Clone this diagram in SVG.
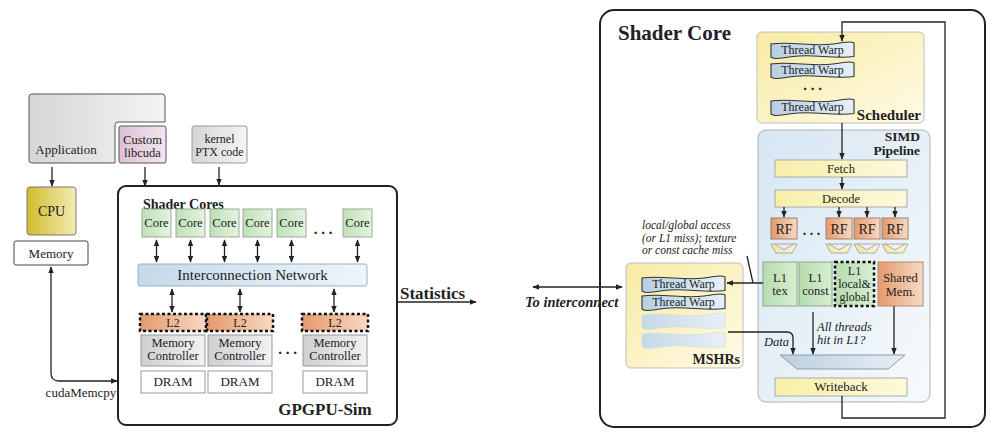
<svg xmlns="http://www.w3.org/2000/svg" xmlns:xlink="http://www.w3.org/1999/xlink" width="998" height="442" viewBox="0 0 998 442">
<defs>
<style>
text{font-family:"Liberation Serif","DejaVu Serif",serif;fill:#222;}
.c{text-anchor:middle;}
.r{text-anchor:end;}
.b{font-weight:bold;}
.i{font-style:italic;}
.s12{font-size:12px;}
.s13{font-size:13px;}
.ln{fill:none;stroke:#222;stroke-width:1.3;}
.arr{fill:none;stroke:#222;stroke-width:1.3;marker-end:url(#ah);}
.dbl{fill:none;stroke:#222;stroke-width:1.3;marker-end:url(#ah);marker-start:url(#ah);}
.dash{stroke:#111;stroke-width:2.5;stroke-dasharray:3 2.5;}
.warp{fill:url(#gWarp);stroke:#333;stroke-width:1.1;}
.warpE{fill:url(#gWarpE);stroke:#d0dce6;stroke-width:0.8;}
.fun{fill:url(#gFun);stroke:#999;stroke-width:0.8;}
</style>
<marker id="ah" viewBox="0 0 10 10" refX="9" refY="5" markerWidth="7" markerHeight="7" markerUnits="userSpaceOnUse" orient="auto-start-reverse"><path d="M0,1 L10,5 L0,9 z" fill="#222"/></marker>
<linearGradient id="gGray" x1="0" y1="0" x2="1" y2="0"><stop offset="0" stop-color="#d6d6d6"/><stop offset="1" stop-color="#f4f4f4"/></linearGradient>
<linearGradient id="gPink" x1="0" y1="0" x2="1" y2="0"><stop offset="0" stop-color="#dcc0d6"/><stop offset="1" stop-color="#f3e6ef"/></linearGradient>
<linearGradient id="gCpu" x1="0" y1="0" x2="1" y2="0"><stop offset="0" stop-color="#d2bc2c"/><stop offset="1" stop-color="#f3ecb4"/></linearGradient>
<linearGradient id="gGreen" x1="0" y1="0" x2="1" y2="0"><stop offset="0" stop-color="#bfe0b8"/><stop offset="1" stop-color="#e4f3e0"/></linearGradient>
<linearGradient id="gL1" x1="0" y1="0" x2="1" y2="0"><stop offset="0" stop-color="#b6dcae"/><stop offset="1" stop-color="#d8eed2"/></linearGradient>
<linearGradient id="gBlue" x1="0" y1="0" x2="1" y2="0"><stop offset="0" stop-color="#c4d9ea"/><stop offset="1" stop-color="#eef5fa"/></linearGradient>
<linearGradient id="gOr" x1="0" y1="0" x2="1" y2="0"><stop offset="0" stop-color="#e49a6c"/><stop offset="1" stop-color="#f8d9c4"/></linearGradient>
<linearGradient id="gMc" x1="0" y1="0" x2="1" y2="0"><stop offset="0" stop-color="#cfcfcf"/><stop offset="1" stop-color="#f2f2f2"/></linearGradient>
<linearGradient id="gYel" x1="0" y1="0" x2="1" y2="0"><stop offset="0" stop-color="#f8efa8"/><stop offset="1" stop-color="#fdf9dc"/></linearGradient>
<linearGradient id="gFun" x1="0" y1="0" x2="1" y2="0"><stop offset="0" stop-color="#f3e6a0"/><stop offset="1" stop-color="#fbf5d6"/></linearGradient>
<linearGradient id="gSched" x1="0" y1="0" x2="1" y2="1"><stop offset="0" stop-color="#f7eba4"/><stop offset="1" stop-color="#fffbe6"/></linearGradient>
<linearGradient id="gPipe" x1="0" y1="0" x2="1" y2="1"><stop offset="0" stop-color="#d6e6f3"/><stop offset="1" stop-color="#f7fafc"/></linearGradient>
<linearGradient id="gWarp" x1="0" y1="0" x2="1" y2="0"><stop offset="0" stop-color="#b8cfe2"/><stop offset="1" stop-color="#e6f0f8"/></linearGradient>
<linearGradient id="gWarpE" x1="0" y1="0" x2="1" y2="0"><stop offset="0" stop-color="#c6d8e8"/><stop offset="1" stop-color="#e8f0f7"/></linearGradient>
<linearGradient id="gMux" x1="0" y1="0" x2="1" y2="0"><stop offset="0" stop-color="#bcd0e0"/><stop offset="1" stop-color="#e6eef5"/></linearGradient>
<path id="wp" d="M0,2 C20,-1 42,5 62,2 S80,0 83,1 V14.5 C63,17.5 42,11.5 22,14.5 S3,16.5 0,15 Z"/>
<path id="fn" d="M0,0 H26 L21,9 H5 Z M3,0 L13,6 L23,0"/>
</defs>
<rect width="998" height="442" fill="#fff"/>

<g id="shadercore">
<rect x="600" y="10" width="385" height="417" rx="14" fill="none" stroke="#222" stroke-width="2"/>
<text x="618" y="40" class="b" font-size="21">Shader Core</text>
</g>

<g id="application">
<path d="M32,94 H162 Q165,94 165,97 V122 H118 Q115,122 115,125 V163 H32 Q29,163 29,160 V97 Q29,94 32,94 Z" fill="url(#gGray)" stroke="#555"/>
<text x="66" y="154" class="c s13">Application</text>
</g>
<g id="libcuda">
<rect x="119" y="126" width="47" height="37" rx="2" fill="url(#gPink)" stroke="#555"/>
<text x="142.5" y="144" class="c" font-size="12.5">Custom</text>
<text x="142.5" y="157" class="c" font-size="12.5">libcuda</text>
</g>
<g id="ptx">
<rect x="192" y="126" width="55" height="37" rx="2" fill="url(#gGray)" stroke="#999"/>
<text x="219.5" y="143" class="c" font-size="12">kernel</text>
<text x="219.5" y="156" class="c" font-size="12">PTX code</text>
</g>
<g id="cpu">
<rect x="27" y="187" width="49" height="48" rx="3" fill="url(#gCpu)" stroke="#777"/>
<text x="51.5" y="216" class="c" font-size="14">CPU</text>
</g>
<g id="memory">
<rect x="14" y="241" width="74" height="24" rx="2" fill="#fff" stroke="#444"/>
<text x="51" y="258" class="c s13">Memory</text>
</g>

<g id="gpgpusim">
<rect x="118" y="186" width="279" height="239" rx="8" fill="#fff" stroke="#222" stroke-width="2"/>
<text x="325" y="415" class="c b" font-size="17">GPGPU-Sim</text>
<text x="143" y="209" class="b" font-size="14">Shader Cores</text>
</g>
<g id="cores">
<rect x="142" y="209" width="29" height="28" fill="url(#gGreen)" stroke="#9aaa98"/>
<rect x="176" y="209" width="29" height="28" fill="url(#gGreen)" stroke="#9aaa98"/>
<rect x="210" y="209" width="29" height="28" fill="url(#gGreen)" stroke="#9aaa98"/>
<rect x="243" y="209" width="29" height="28" fill="url(#gGreen)" stroke="#9aaa98"/>
<rect x="277" y="209" width="29" height="28" fill="url(#gGreen)" stroke="#9aaa98"/>
<rect x="343" y="209" width="29" height="28" fill="url(#gGreen)" stroke="#9aaa98"/>
<text x="156.5" y="227" class="c" font-size="12.5">Core</text>
<text x="190.5" y="227" class="c" font-size="12.5">Core</text>
<text x="224.5" y="227" class="c" font-size="12.5">Core</text>
<text x="257.5" y="227" class="c" font-size="12.5">Core</text>
<text x="291.5" y="227" class="c" font-size="12.5">Core</text>
<text x="357.5" y="227" class="c" font-size="12.5">Core</text>
<text x="323" y="234" class="c b" font-size="15">. . .</text>
</g>
<g id="interconnect">
<rect x="138" y="264" width="229" height="22" rx="2" fill="url(#gBlue)" stroke="#9ab0c4"/>
<text x="252.5" y="280" class="c" font-size="15">Interconnection Network</text>
</g>
<g id="partitions">
<rect x="140" y="314" width="66" height="17" fill="url(#gOr)" class="dash"/>
<rect x="207" y="314" width="66" height="17" fill="url(#gOr)" class="dash"/>
<rect x="302" y="314" width="66" height="17" fill="url(#gOr)" class="dash"/>
<text x="173" y="327" class="c s12">L2</text>
<text x="240" y="327" class="c s12">L2</text>
<text x="335" y="327" class="c s12">L2</text>
<rect x="141" y="335" width="64" height="31" fill="url(#gMc)" stroke="#999"/>
<rect x="208" y="335" width="64" height="31" fill="url(#gMc)" stroke="#999"/>
<rect x="303" y="335" width="64" height="31" fill="url(#gMc)" stroke="#999"/>
<text x="173" y="347" class="c" font-size="12.5">Memory</text>
<text x="173" y="360" class="c" font-size="12.5">Controller</text>
<text x="240" y="347" class="c" font-size="12.5">Memory</text>
<text x="240" y="360" class="c" font-size="12.5">Controller</text>
<text x="335" y="347" class="c" font-size="12.5">Memory</text>
<text x="335" y="360" class="c" font-size="12.5">Controller</text>
<rect x="141" y="371" width="64" height="22" fill="#fff" stroke="#999"/>
<rect x="208" y="371" width="64" height="22" fill="#fff" stroke="#999"/>
<rect x="303" y="371" width="64" height="22" fill="#fff" stroke="#999"/>
<text x="173" y="386" class="c s13">DRAM</text>
<text x="240" y="386" class="c s13">DRAM</text>
<text x="335" y="386" class="c s13">DRAM</text>
<text x="287.5" y="354" class="c b" font-size="15">. . .</text>
</g>
<g id="labels-mid">
<text x="400" y="299" class="b" font-size="17">Statistics</text>
<text x="525" y="307" class="b i" font-size="14.5">To interconnect</text>
<text x="81" y="397" class="c s13">cudaMemcpy</text>
</g>

<g id="scheduler">
<rect x="757" y="32" width="167" height="91" rx="5" fill="url(#gSched)" stroke="#bdbdbd"/>
<use xlink:href="#wp" x="771" y="42" class="warp"/>
<use xlink:href="#wp" x="771" y="62" class="warp"/>
<use xlink:href="#wp" x="771" y="99" class="warp"/>
<text x="812.5" y="54" class="c s12">Thread Warp</text>
<text x="812.5" y="74" class="c s12">Thread Warp</text>
<text x="812.5" y="111" class="c s12">Thread Warp</text>
<text x="812.5" y="90" class="c b" font-size="15">. . .</text>
<text x="921" y="120" class="r b" font-size="15">Scheduler</text>
</g>
<g id="simd">
<rect x="758" y="130" width="172" height="272" rx="8" fill="url(#gPipe)" stroke="#b0b0b0"/>
<text x="920" y="141" class="r b" font-size="13.5">SIMD</text>
<text x="920" y="155" class="r b" font-size="13.5">Pipeline</text>
</g>
<g id="fetch">
<rect x="775" y="160" width="132" height="17" fill="url(#gYel)" stroke="#aaa"/>
<text x="841" y="173" class="c" font-size="12.5">Fetch</text>
</g>
<g id="decode">
<rect x="775" y="190" width="132" height="17" fill="url(#gYel)" stroke="#aaa"/>
<text x="841" y="203" class="c" font-size="12.5">Decode</text>
</g>
<g id="rf">
<rect x="771" y="218" width="26" height="21" fill="url(#gOr)" stroke="#a08070"/>
<rect x="826" y="218" width="26" height="21" fill="url(#gOr)" stroke="#a08070"/>
<rect x="854" y="218" width="26" height="21" fill="url(#gOr)" stroke="#a08070"/>
<rect x="882" y="218" width="26" height="21" fill="url(#gOr)" stroke="#a08070"/>
<text x="784" y="234" class="c" font-size="14">RF</text>
<text x="839" y="234" class="c" font-size="14">RF</text>
<text x="867" y="234" class="c" font-size="14">RF</text>
<text x="895" y="234" class="c" font-size="14">RF</text>
<text x="811.5" y="235" class="c b" font-size="14">. . .</text>
<use xlink:href="#fn" x="771" y="244" class="fun"/>
<use xlink:href="#fn" x="826" y="244" class="fun"/>
<use xlink:href="#fn" x="854" y="244" class="fun"/>
<use xlink:href="#fn" x="882" y="244" class="fun"/>
</g>
<g id="l1tex">
<rect x="763" y="262" width="34" height="44" fill="url(#gL1)" stroke="#8aa888"/>
<text x="780" y="282" class="c" font-size="12.5">L1</text>
<text x="780" y="295" class="c" font-size="12.5">tex</text>
</g>
<g id="l1const">
<rect x="799" y="262" width="33" height="44" fill="url(#gL1)" stroke="#8aa888"/>
<text x="815.5" y="282" class="c" font-size="12.5">L1</text>
<text x="815.5" y="295" class="c" font-size="12.5">const</text>
</g>
<g id="l1lg">
<rect x="835" y="262" width="39" height="44" fill="url(#gL1)" class="dash"/>
<text x="854.5" y="275" class="c" font-size="12">L1</text>
<text x="854.5" y="288" class="c" font-size="12">local&amp;</text>
<text x="854.5" y="301" class="c" font-size="12">global</text>
</g>
<g id="sharedmem">
<rect x="878" y="262" width="45" height="44" fill="url(#gOr)" stroke="#b08a70"/>
<text x="900.5" y="281.5" class="c" font-size="12.5">Shared</text>
<text x="900.5" y="295.5" class="c" font-size="12.5">Mem.</text>
</g>
<g id="mux">
<polygon points="780,355 905,355 888,369 797,369" fill="url(#gMux)" stroke="#8a9aa8"/>
</g>
<g id="writeback">
<rect x="775" y="378" width="132" height="18" fill="url(#gYel)" stroke="#aaa"/>
<text x="841" y="391" class="c" font-size="13">Writeback</text>
</g>
<g id="mshrs">
<rect x="626" y="263" width="117" height="105" rx="5" fill="url(#gSched)" stroke="#bdbdbd"/>
<use xlink:href="#wp" x="642" y="276" class="warp"/>
<use xlink:href="#wp" x="642" y="294" class="warp"/>
<use xlink:href="#wp" x="642" y="313" class="warpE"/>
<use xlink:href="#wp" x="642" y="332" class="warpE"/>
<text x="683.5" y="288" class="c s12">Thread Warp</text>
<text x="683.5" y="306" class="c s12">Thread Warp</text>
<text x="740" y="364" class="r b" font-size="14">MSHRs</text>
</g>
<g id="annotations">
<text x="642" y="229" class="i" font-size="11.5">local/global access</text>
<text x="642" y="241.5" class="i" font-size="11.5">(or L1 miss); texture</text>
<text x="642" y="254" class="i" font-size="11.5">or const cache miss</text>
<text x="789" y="346" class="r i" font-size="12.5">Data</text>
<text x="817" y="331" class="i" font-size="12.5">All threads</text>
<text x="817" y="344" class="i" font-size="12.5">hit in L1?</text>
</g>

<g id="connectors">
<line x1="52" y1="167" x2="52" y2="186" class="arr"/>
<line x1="145" y1="167" x2="145" y2="186" class="arr"/>
<line x1="219" y1="167" x2="219" y2="185" class="arr"/>
<path d="M51,267 V373 Q51,381 59,381 H117" class="dbl"/>
<line x1="156.5" y1="240" x2="156.5" y2="262" class="dbl"/>
<line x1="190.5" y1="240" x2="190.5" y2="262" class="dbl"/>
<line x1="224.5" y1="240" x2="224.5" y2="262" class="dbl"/>
<line x1="257.5" y1="240" x2="257.5" y2="262" class="dbl"/>
<line x1="291.5" y1="240" x2="291.5" y2="262" class="dbl"/>
<line x1="357.5" y1="240" x2="357.5" y2="262" class="dbl"/>
<line x1="172" y1="289" x2="172" y2="312" class="dbl"/>
<line x1="240" y1="289" x2="240" y2="312" class="dbl"/>
<line x1="334" y1="289" x2="334" y2="312" class="dbl"/>
<line x1="397" y1="302" x2="476" y2="302" class="arr"/>
<line x1="533" y1="287" x2="622" y2="287" class="dbl"/>
<path d="M842,396 V418 H945 V22 H842 V41" class="arr"/>
<line x1="842" y1="123" x2="842" y2="159" class="arr"/>
<line x1="842" y1="177" x2="842" y2="189" class="arr"/>
<line x1="784" y1="207" x2="784" y2="217" class="arr"/>
<line x1="839" y1="207" x2="839" y2="217" class="arr"/>
<line x1="867" y1="207" x2="867" y2="217" class="arr"/>
<line x1="895" y1="207" x2="895" y2="217" class="arr"/>
<line x1="747" y1="256" x2="753" y2="283" class="ln"/>
<line x1="763" y1="283" x2="727" y2="283" class="arr"/>
<path d="M728,332 H787 Q793,332 793,338 V354" class="arr"/>
<line x1="813" y1="312" x2="813" y2="354" class="arr"/>
<line x1="894" y1="306" x2="894" y2="354" class="arr"/>
</g>
</svg>
